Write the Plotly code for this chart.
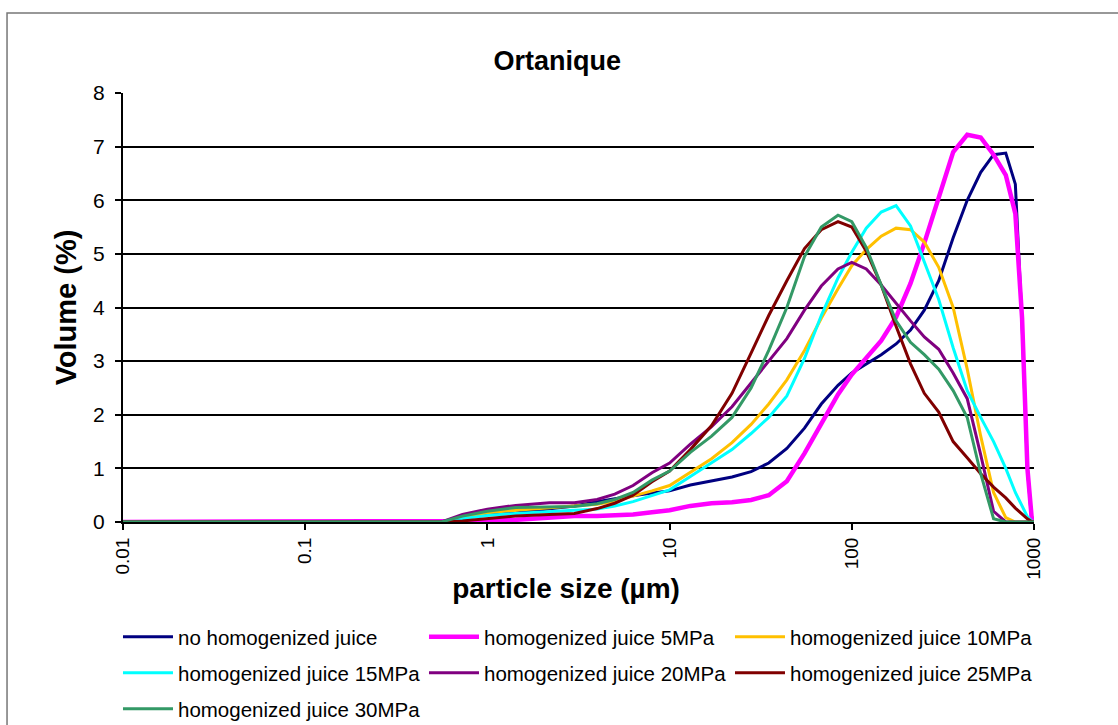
import plotly.graph_objects as go

# particle sizes (µm)
sizes = [0.01, 0.56, 0.73, 1.0, 1.43, 2.19, 3.0, 4.0, 5.0, 6.3, 8.0, 10, 13, 17, 22, 28, 35, 44, 55, 68,
         84, 100, 120, 145, 175, 210, 250, 300, 360, 430, 510, 600, 700, 790, 860, 920, 970, 1000]

no_homog = [0, 0, 0.08, 0.14, 0.17, 0.24, 0.30, 0.38, 0.44, 0.49, 0.54, 0.58, 0.69, 0.77, 0.84, 0.94, 1.10, 1.37,
            1.75, 2.20, 2.55, 2.78, 2.95, 3.12, 3.32, 3.58, 3.95, 4.50, 5.30, 6.00, 6.52, 6.85, 6.88, 6.30, 3.70, 1.00, 0.05, 0]
homog_5 = [0, 0, 0, 0.02, 0.04, 0.08, 0.11, 0.11, 0.12, 0.14, 0.18, 0.22, 0.30, 0.35, 0.37, 0.41, 0.50, 0.76,
           1.28, 1.85, 2.38, 2.75, 3.05, 3.38, 3.82, 4.45, 5.20, 6.05, 6.90, 7.22, 7.17, 6.85, 6.47, 5.75, 3.80, 1.00, 0.10, 0]
homog_10 = [0, 0, 0.08, 0.17, 0.22, 0.27, 0.30, 0.33, 0.39, 0.48, 0.58, 0.68, 0.92, 1.18, 1.48, 1.82, 2.20, 2.65,
            3.20, 3.80, 4.35, 4.78, 5.08, 5.33, 5.48, 5.45, 5.22, 4.75, 4.00, 2.85, 1.60, 0.55, 0.08, 0, 0, 0, 0, 0]
homog_15 = [0, 0, 0.06, 0.12, 0.16, 0.20, 0.22, 0.24, 0.30, 0.38, 0.50, 0.60, 0.85, 1.10, 1.35, 1.65, 1.95, 2.35,
            3.05, 3.85, 4.55, 5.03, 5.48, 5.78, 5.90, 5.52, 4.85, 4.15, 3.25, 2.45, 1.95, 1.50, 1.00, 0.55, 0.30, 0.10, 0.02, 0]
homog_20 = [0, 0, 0.14, 0.24, 0.31, 0.36, 0.36, 0.42, 0.52, 0.68, 0.92, 1.10, 1.45, 1.78, 2.15, 2.60, 3.00, 3.42,
            3.95, 4.40, 4.72, 4.84, 4.72, 4.42, 4.07, 3.75, 3.45, 3.22, 2.78, 2.30, 1.25, 0.20, 0, 0, 0, 0, 0, 0]
homog_25 = [0, 0, 0.02, 0.06, 0.11, 0.14, 0.16, 0.25, 0.35, 0.50, 0.75, 0.95, 1.35, 1.80, 2.40, 3.15, 3.85, 4.50,
            5.10, 5.45, 5.60, 5.50, 5.05, 4.42, 3.65, 2.95, 2.40, 2.05, 1.50, 1.20, 0.90, 0.65, 0.45, 0.26, 0.15, 0.06, 0.01, 0]
homog_30 = [0, 0, 0.11, 0.20, 0.27, 0.28, 0.29, 0.34, 0.42, 0.55, 0.78, 0.95, 1.30, 1.60, 1.95, 2.50, 3.20, 4.00,
            4.95, 5.50, 5.72, 5.60, 5.12, 4.42, 3.75, 3.35, 3.12, 2.85, 2.45, 1.95, 0.90, 0.06, 0, 0, 0, 0, 0, 0]

series_names = ["no homogenized juice", "homogenized juice 5MPa", "homogenized juice 10MPa",
                "homogenized juice 15MPa", "homogenized juice 20MPa", "homogenized juice 25MPa",
                "homogenized juice 30MPa"]
series_values = [no_homog, homog_5, homog_10, homog_15, homog_20, homog_25, homog_30]
colors = ["#000080", "#FF00FF", "#FFC000", "#00FFFF", "#800080", "#800000", "#339966"]
widths = [3, 4.5, 3, 3, 3, 3, 3]
legend_rows = ["legend", "legend", "legend", "legend2", "legend2", "legend2", "legend3"]

x_tickvals = [0.01, 0.1, 1, 10, 100, 1000]
x_ticktext = ["0.01", "0.1", "1", "10", "100", "1000"]

fig = go.Figure()
for name, vals, c, w, lg in zip(series_names, series_values, colors, widths, legend_rows):
    fig.add_trace(go.Scatter(x=sizes, y=vals, mode="lines", name=name, legend=lg,
                             line=dict(color=c, width=w)))

FONT = "Liberation Sans, Arial, sans-serif"


def legend_row(ypos):
    return dict(orientation="h", x=-0.0055, xanchor="left", y=ypos, yanchor="middle",
                entrywidth=241, entrywidthmode="pixels", itemwidth=50,
                font=dict(family=FONT, size=20.5, color="black"),
                bgcolor="rgba(0,0,0,0)", borderwidth=0)


fig.update_layout(
    width=1118, height=725,
    paper_bgcolor="white", plot_bgcolor="white",
    margin=dict(l=123, r=84, t=93, b=203, autoexpand=False),
    font=dict(family=FONT, color="black", size=20),
    title=dict(text="<b>Ortanique</b>", x=0.4985, xanchor="center", y=0.917, yanchor="middle",
               font=dict(family=FONT, size=27, color="black")),
    xaxis=dict(type="log", range=[-2, 3], tickvals=x_tickvals, ticktext=x_ticktext,
               tickangle=-90, ticks="outside", ticklen=6, tickwidth=2, tickcolor="black",
               showline=True, linecolor="black", linewidth=2, showgrid=False, zeroline=False,
               tickfont=dict(size=19),
               title=dict(text="<b>particle size (µm)</b><span style=\"color:rgba(0,0,0,0)\">iiii</span>",
                          font=dict(size=28), standoff=0)),
    yaxis=dict(range=[0, 8], dtick=1, ticks="outside", ticklen=6, tickwidth=2, tickcolor="black",
               showline=True, linecolor="black", linewidth=2, showgrid=True, gridcolor="black",
               gridwidth=2, zeroline=False, tickfont=dict(size=21), ticklabelstandoff=6,
               title=dict(text="<b>Volume (%)</b>", font=dict(size=29), standoff=8)),
    legend=legend_row(-0.268),
    legend2=legend_row(-0.352),
    legend3=legend_row(-0.436),
    showlegend=True,
)

fig.add_shape(type="rect", xref="paper", yref="paper", x0=-0.1273, x1=1.1, y0=-0.52, y1=1.1865,
              line=dict(color="#777777", width=1.5), fillcolor="rgba(0,0,0,0)", layer="below")

fig.write_html("out.html", config={"displayModeBar": False},
               post_script="document.body.style.margin='0px';")
